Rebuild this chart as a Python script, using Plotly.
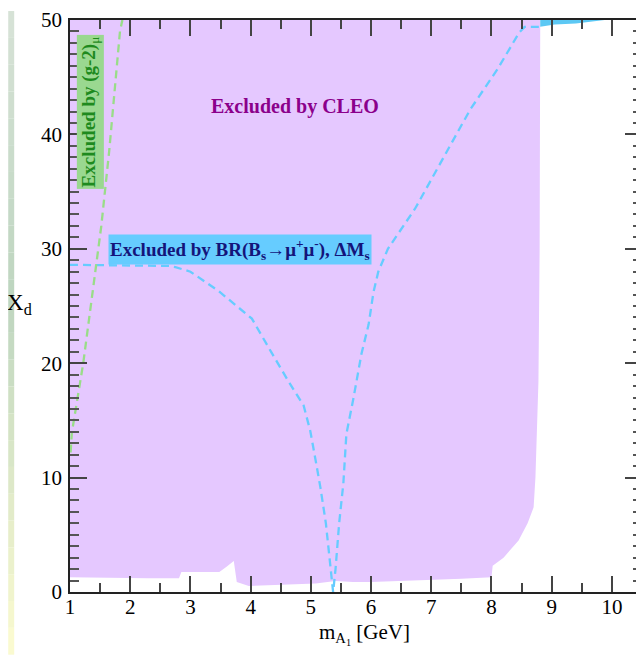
import plotly.graph_objects as go

# ---------------- data ----------------
# CLEO excluded region boundary (m_A1 [GeV], X_d)
cleo_x = [1.0, 8.81, 8.80, 8.78, 8.76, 8.73, 8.70, 8.60, 8.45, 8.20, 8.02, 8.00,
          7.50, 6.95, 6.40, 6.00, 5.70, 5.41, 5.08, 4.50, 3.97, 3.77, 3.72, 3.60,
          3.48, 2.85, 2.81, 2.30, 1.0]
cleo_y = [50.0, 50.0, 30.0, 18.4, 15.0, 10.0, 7.4, 6.0, 4.5, 3.0, 2.3, 1.3,
          1.15, 1.04, 0.96, 0.87, 0.87, 0.96, 0.75, 0.6, 0.52, 0.87, 2.7, 2.2,
          1.74, 1.74, 1.2, 1.2, 1.3]

# BR(Bs->mu mu), Delta Ms boundary (dashed)
bs_x = [1.0, 2.65, 2.75, 3.00, 3.47, 4.02, 4.35, 4.63, 4.88, 4.99, 5.09, 5.16,
        5.25, 5.34, 5.37, 5.41, 5.47, 5.54, 5.59, 5.71, 5.84, 5.96, 6.04, 6.12,
        6.28, 6.73, 7.16, 7.65, 8.10, 8.46, 8.55, 8.81]
bs_y = [28.6, 28.5, 28.4, 28.0, 26.3, 23.9, 20.9, 18.4, 16.3, 14.1, 11.2, 9.1,
        6.0, 1.0, 0.0, 2.0, 6.0, 9.5, 13.8, 17.0, 20.8, 23.4, 26.2, 28.0,
        30.0, 33.5, 37.6, 42.2, 45.7, 48.9, 49.4, 49.4]

# small Bs-excluded sliver at top right
sliver_x = [8.81, 8.81, 9.05, 9.40, 9.88, 8.81]
sliver_y = [50.0, 49.4, 49.6, 49.7, 50.0, 50.0]

# (g-2)_mu boundary (dashed)
g2_x = [1.01, 1.03, 1.22, 1.36, 1.52, 1.65, 1.75, 1.83, 1.87]
g2_y = [12.2, 13.9, 20.0, 25.4, 32.0, 38.5, 44.0, 49.0, 50.0]

x_ticks = [1, 2, 3, 4, 5, 6, 7, 8, 9, 10]
y_ticks = [0, 10, 20, 30, 40, 50]

# ---------------- figure ----------------
SERIF = "Liberation Serif, Times New Roman, serif"
PURPLE = "#e5c8ff"
CYAN = "#66ccff"

fig = go.Figure()
fig.add_trace(go.Scatter(x=cleo_x, y=cleo_y, fill="toself", fillcolor=PURPLE,
                         mode="lines", line=dict(width=0, color=PURPLE),
                         hoverinfo="skip", showlegend=False))
fig.add_trace(go.Scatter(x=sliver_x, y=sliver_y, fill="toself", fillcolor="#5cc8f4",
                         mode="lines", line=dict(width=0, color="#5cc8f4"),
                         hoverinfo="skip", showlegend=False))
fig.add_trace(go.Scatter(x=bs_x, y=bs_y, mode="lines",
                         line=dict(color=CYAN, width=2.3, dash="8px,5px"),
                         hoverinfo="skip", showlegend=False))
fig.add_trace(go.Scatter(x=g2_x, y=g2_y, mode="lines",
                         line=dict(color="#99dd88", width=2.3, dash="8px,5px"),
                         hoverinfo="skip", showlegend=False))

# page has an 8px body margin: figure occupies window x 8..644, y 8..655
OFF = 8
ML, MT, W, H = 62, 9, 574, 575          # plot area at window x 70..644, y 17..592
FIG_W, FIG_H = 636, 647


def px(xp):  # window pixel x -> paper x
    return (xp - OFF - ML) / W


def py(yp):  # window pixel y -> paper y
    return (MT + H - (yp - OFF)) / H


shapes = []
nb = 24
c_top = (214, 226, 214)
c_mid = (190, 214, 192)
c_bot = (250, 250, 208)
for i in range(nb):
    f = i / (nb - 1)
    if f < 0.45:
        g = f / 0.45
        c = [c_top[k] + (c_mid[k] - c_top[k]) * g for k in range(3)]
    else:
        g = (f - 0.45) / 0.55
        c = [c_mid[k] + (c_bot[k] - c_mid[k]) * g for k in range(3)]
    y0p = 8 + (655 - 8) * i / nb
    y1p = 8 + (655 - 8) * (i + 1) / nb
    shapes.append(dict(type="rect", xref="paper", yref="paper",
                       x0=px(8), x1=px(14), y0=py(y1p), y1=py(y0p),
                       fillcolor="rgb(%d,%d,%d)" % tuple(int(v) for v in c),
                       line=dict(width=0), layer="below"))

axis_common = dict(
    showline=True, linecolor="#222222", linewidth=1.5, mirror="ticks",
    ticks="inside", tickcolor="#444444", tickwidth=1.5,
    showgrid=False, zeroline=False, ticklabeloverflow="allow",
    tickfont=dict(family=SERIF, size=21, color="black"),
)

fig.update_layout(
    width=FIG_W, height=FIG_H,
    margin=dict(l=ML, r=0, t=MT, b=FIG_H - MT - H),
    paper_bgcolor="white", plot_bgcolor="white",
    shapes=shapes,
    xaxis=dict(range=[1, 10.5], tickvals=x_ticks, ticklen=16,
               ticklabelstandoff=-5,
               minor=dict(dtick=0.5, tick0=1, ticks="inside", ticklen=9,
                          tickcolor="#444444", tickwidth=1.5),
               **axis_common),
    yaxis=dict(range=[0, 50], tickvals=y_ticks, ticklen=17,
               ticklabelstandoff=2,
               minor=dict(dtick=1, tick0=0, ticks="inside", ticklen=9,
                          tickcolor="#555555", tickwidth=1.5),
               **axis_common),
    showlegend=False,
)

annotations = [
    dict(x=4.73, y=42.4, xref="x", yref="y", text="<b>Excluded by CLEO</b>",
         xanchor="center", yanchor="middle",
         showarrow=False, font=dict(family=SERIF, size=20, color="#8b008b")),
    dict(x=3.82, y=29.9, xref="x", yref="y",
         text="<b>Excluded by BR(B<sub>s</sub>\u2192\u03bc<sup>+</sup>\u03bc<sup>-</sup>), \u0394M<sub>s</sub></b>",
         xanchor="center", yanchor="middle",
         showarrow=False, bgcolor=CYAN, borderpad=1,
         font=dict(family=SERIF, size=19, color="#14147a")),
    dict(x=1.33, y=42.0, xref="x", yref="y",
         text="<b>Excluded by (g-2)</b><sub>\u03bc</sub>", textangle=-90,
         xanchor="center", yanchor="middle",
         showarrow=False, bgcolor="#9ad890", borderpad=1,
         font=dict(family=SERIF, size=19, color="#1e8a1e")),
    dict(x=px(19), y=py(302), xref="paper", yref="paper",
         xanchor="center", yanchor="middle",
         text="X<sub>d</sub>", showarrow=False,
         font=dict(family=SERIF, size=23, color="black")),
    dict(x=px(366), y=py(634), xref="paper", yref="paper",
         xanchor="center", yanchor="middle",
         text="m<sub>A<sub>1</sub></sub> [GeV]", showarrow=False,
         font=dict(family=SERIF, size=21, color="black")),
]
fig.update_layout(annotations=annotations)

fig.write_html("out.html")
